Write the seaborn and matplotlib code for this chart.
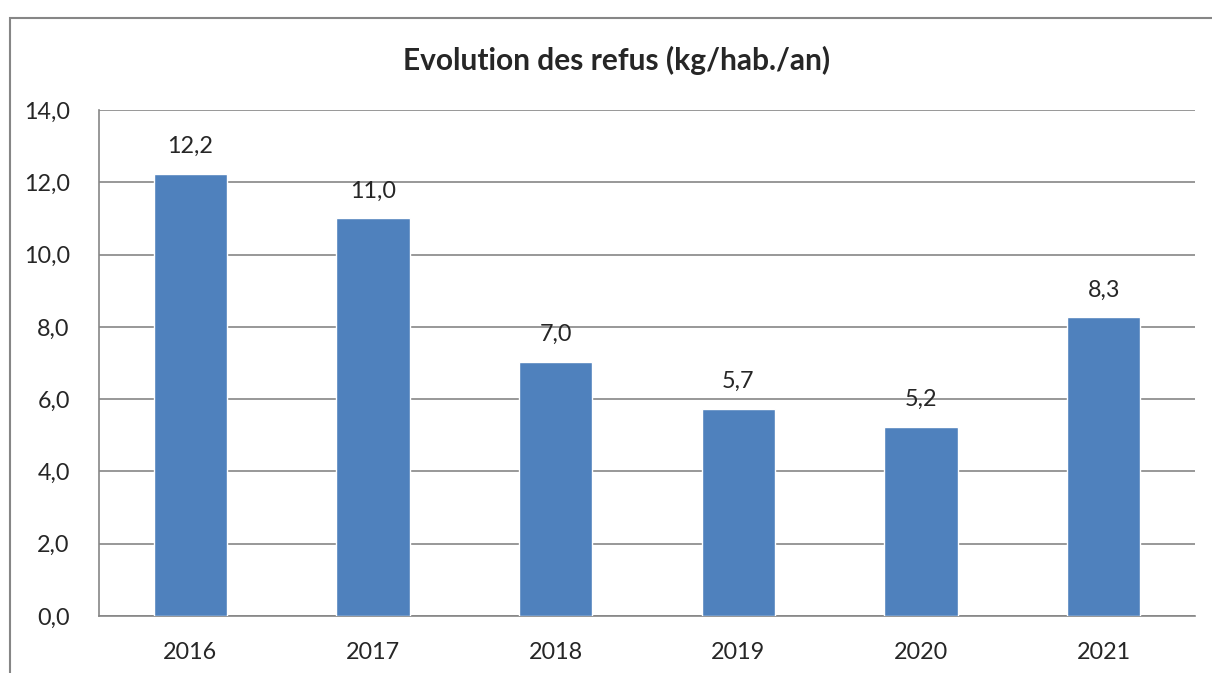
import matplotlib
matplotlib.use("Agg")
import matplotlib.pyplot as plt
import matplotlib.patches as patches
import seaborn as sns
import pandas as pd

# Data
years = ["2016", "2017", "2018", "2019", "2020", "2021"]
refus = [12.24, 11.0, 7.03, 5.73, 5.23, 8.27]
y_ticks = [0, 2, 4, 6, 8, 10, 12, 14]

df = pd.DataFrame({"Année": years, "Refus": refus})

sns.set_style("white")
plt.rcParams['font.family'] = ['Lato', 'DejaVu Sans']

grey = "#868686"
fig = plt.figure(figsize=(12.12, 6.73), dpi=100)
ax = fig.add_axes([99 / 1212, 57 / 673, (1195 - 99) / 1212, (616 - 110) / 673])

sns.barplot(data=df, x="Année", y="Refus", color="#4F81BD", width=0.4,
            saturation=1, ax=ax, zorder=3)

ax.set_ylim(0, 14)
ax.set_xlim(-0.5, len(years) - 0.5)
ax.set_yticks(y_ticks)
ax.set_yticklabels([f"{v:.1f}".replace(".", ",") for v in y_ticks], fontsize=16.8)
ax.yaxis.grid(True, color=grey, linewidth=1.2, zorder=0)
ax.set_axisbelow(True)

# ticks between categories on x axis
ax.set_xticks([i - 0.5 for i in range(len(years) + 1)], minor=True)
ax.tick_params(axis="x", which="major", length=0, pad=19, labelsize=16.8)
ax.tick_params(axis="x", which="minor", length=8, width=1.2, color=grey, direction="out")
ax.tick_params(axis="y", which="major", length=8, width=1.2, color=grey, direction="out", pad=13)

for side in ["top", "right"]:
    ax.spines[side].set_visible(False)
for side in ["left", "bottom"]:
    ax.spines[side].set_color(grey)
    ax.spines[side].set_linewidth(1.2)

ax.set_xlabel("")
ax.set_ylabel("")

labels = [f"{v:.1f}".replace(".", ",") for v in refus]
ax.bar_label(ax.containers[0], labels=labels, padding=12, fontsize=16.8)

fig.text(0.509, 1 - 60 / 673, "Evolution des refus (kg/hab./an)", ha="center", va="center",
         fontsize=21.5, fontweight="bold")

# outer chart frame
frame = patches.Rectangle((10 / 1212, -0.1), 1.2, (673 - 18) / 673 + 0.1,
                          transform=fig.transFigure, fill=False,
                          edgecolor=grey, linewidth=1.5)
fig.add_artist(frame)

fig.savefig("out.png", dpi=100)
